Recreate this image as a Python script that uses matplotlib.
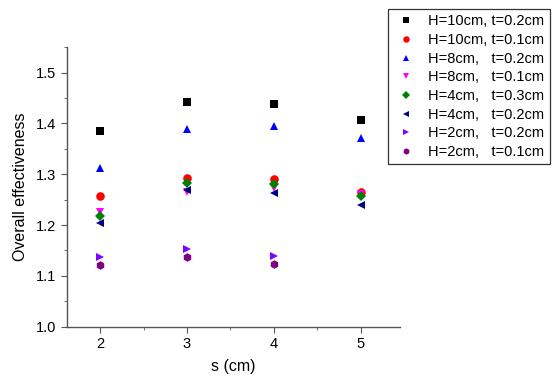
import numpy as np
import matplotlib.pyplot as plt
from matplotlib.ticker import MultipleLocator

plt.rcParams['font.family'] = ['Liberation Sans', 'DejaVu Sans']

s = [2, 3, 4, 5]
s3 = [2, 3, 4]

h10_t02 = [1.385, 1.442, 1.438, 1.407]
h10_t01 = [1.257, 1.292, 1.290, 1.266]
h8_t02 = [1.312, 1.389, 1.395, 1.372]
h8_t01 = [1.226, 1.266, 1.272, 1.262]
h4_t03 = [1.218, 1.282, 1.281, 1.257]
h4_t02 = [1.205, 1.269, 1.263, 1.240]
h2_t02 = [1.138, 1.153, 1.140]
h2_t01 = [1.121, 1.137, 1.124]

series = [
    (s, h10_t02, 's', 'black', 'H=10cm, t=0.2cm'),
    (s, h10_t01, 'o', 'red', 'H=10cm, t=0.1cm'),
    (s, h8_t02, '^', 'blue', 'H=8cm,   t=0.2cm'),
    (s, h8_t01, 'v', 'magenta', 'H=8cm,   t=0.1cm'),
    (s, h4_t03, 'D', 'green', 'H=4cm,   t=0.3cm'),
    (s, h4_t02, '<', 'navy', 'H=4cm,   t=0.2cm'),
    (s3, h2_t02, '>', '#8000ff', 'H=2cm,   t=0.2cm'),
    (s3, h2_t01, 'h', 'purple', 'H=2cm,   t=0.1cm'),
]

fig = plt.figure(figsize=(5.52, 3.83), dpi=100)
ax = fig.add_axes([0.1214, 0.147, 0.6032, 0.731])

for x, y, m, c, lab in series:
    ms = 5 if m == 'D' else 6.2
    ax.plot(x, y, linestyle='none', marker=m, color=c, markersize=ms,
            markeredgewidth=0, label=lab)

ax.set_xlim(1.62, 5.45)
ax.set_ylim(1.0, 1.551)
ax.set_xticks(s)
ax.xaxis.set_minor_locator(MultipleLocator(0.5))
ax.yaxis.set_major_locator(MultipleLocator(0.1))
ax.yaxis.set_minor_locator(MultipleLocator(0.05))
ax.set_yticklabels([f'{v:.1f}' for v in ax.get_yticks()])
ax.set_ylim(1.0, 1.551)

for side in ['top', 'right']:
    ax.spines[side].set_visible(False)
for side in ['left', 'bottom']:
    ax.spines[side].set_color('#555555')
    ax.spines[side].set_linewidth(1.0)
ax.tick_params(which='major', direction='out', length=4, color='#555555', labelsize=10.5)
ax.tick_params(which='minor', direction='out', length=2, color='#555555')

ax.set_xlabel('s (cm)', fontsize=11.5, labelpad=6)
ax.set_ylabel('Overall effectiveness', fontsize=11.5, labelpad=6)

leg = ax.legend(loc='upper left', bbox_to_anchor=(0.690, 0.995), bbox_transform=fig.transFigure,
                fontsize=10.5, frameon=True, fancybox=False, edgecolor='black',
                handlelength=1.8, handletextpad=0.6, labelspacing=0.32,
                borderpad=0.35, markerscale=0.75)
leg.get_frame().set_linewidth(0.9)

plt.savefig('out.png', dpi=100)
